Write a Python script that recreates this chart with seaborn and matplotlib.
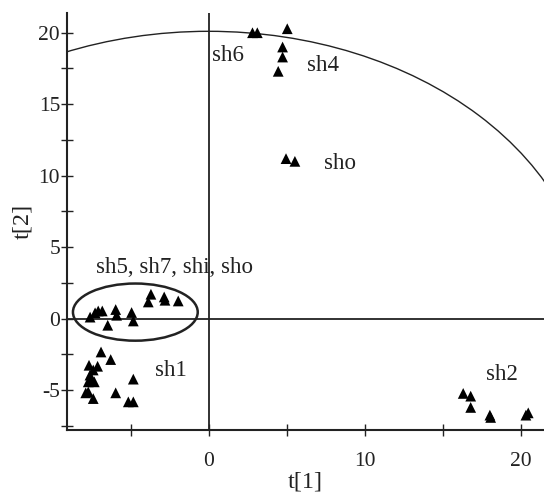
import matplotlib
matplotlib.use("Agg")
import matplotlib.pyplot as plt
from matplotlib.patches import Ellipse
from matplotlib.ticker import MultipleLocator
import pandas as pd
import seaborn as sns

# score values
t1 = [-7.6, -7.28, -7.08, -6.82, -6.47, -5.96, -5.9, -4.94, -4.83, -3.7, -3.87, -2.85, -2.8, -1.95,
      -6.9, -6.28, -7.67, -7.12, -7.4, -7.61, -7.5, -7.72, -7.33, -4.83, -7.88, -7.72, -7.4, -5.96, -5.15, -4.83,
      5.04, 4.74, 4.74, 4.46,
      4.96, 5.53,
      2.81, 3.12,
      16.32, 16.8, 16.8, 18.03, 18.08, 20.34, 20.49]
t2 = [0.1, 0.4, 0.53, 0.53, -0.47, 0.63, 0.23, 0.42, -0.17, 1.7, 1.16, 1.51, 1.28, 1.23,
      -2.34, -2.87, -3.27, -3.34, -3.6, -3.96, -4.27, -4.43, -4.43, -4.24, -5.2, -5.13, -5.6, -5.2, -5.83, -5.83,
      20.28, 19.0, 18.3, 17.3,
      11.19, 11.0,
      20.0, 20.0,
      -5.24, -5.43, -6.22, -6.76, -6.92, -6.76, -6.6]

group_labels = ["sh6", "sh4", "sho", "sh5, sh7, shi, sho", "sh1", "sh2"]
label_x = [0.2, 6.3, 7.4, -7.2, -3.45, 17.8]
label_y = [18.4, 17.7, 10.85, 3.6, -3.65, -3.95]

# Hotelling T2 ellipse half axes, and the ellipse round the middle cluster
t2_a, t2_b = 24.5, 20.1
clu_x, clu_y, clu_w, clu_h = -4.7, 0.45, 8.0, 4.0

df = pd.DataFrame({"t[1]": t1, "t[2]": t2})

sns.set_style("ticks")
plt.rcParams["font.family"] = ["Liberation Serif", "DejaVu Serif"]

fig = plt.figure(figsize=(5.44, 4.97), dpi=100)
ax = fig.add_axes([0.1232, 0.1348, 0.8768, 0.8396])

ax.add_patch(Ellipse((0, 0), 2 * t2_a, 2 * t2_b, fill=False, color="#222222", lw=1.0))
ax.add_patch(Ellipse((clu_x, clu_y), clu_w, clu_h, fill=False, color="#222222", lw=1.8))
ax.axhline(0, color="#222222", lw=1.3)
ax.axvline(0, color="#222222", lw=1.3)

sns.scatterplot(data=df, x="t[1]", y="t[2]", marker="^", color="black", s=60,
                edgecolor="none", ax=ax, zorder=3)

for lab, x, y in zip(group_labels, label_x, label_y):
    ax.text(x, y, lab, fontsize=16.5, ha="left", va="center", color="#222222")

ax.set_xlim(-9.08, 21.5)
ax.set_ylim(-7.8, 21.4)
ax.xaxis.set_major_locator(MultipleLocator(10))
ax.xaxis.set_minor_locator(MultipleLocator(5))
ax.yaxis.set_major_locator(MultipleLocator(5))
ax.yaxis.set_minor_locator(MultipleLocator(2.5))
ax.set_yticks([-5, 0, 5, 10, 15, 20])
ax.set_yticklabels(["-5", "0", "5", "10", "15", "20"])

ax.tick_params(which="both", direction="inout", length=8, width=1, color="#222222",
               labelsize=15.5, labelcolor="#222222")
ax.tick_params(axis="x", which="both", pad=12)
ax.tick_params(axis="y", which="both", pad=1)

ax.set_xlabel("t[1]", fontsize=17.5, color="#222222", labelpad=0)
ax.set_ylabel("t[2]", fontsize=17.5, color="#222222", labelpad=4)

sns.despine(ax=ax)
for side in ["left", "bottom"]:
    ax.spines[side].set_linewidth(1.5)
    ax.spines[side].set_color("#222222")

fig.savefig("out.png", dpi=100)
